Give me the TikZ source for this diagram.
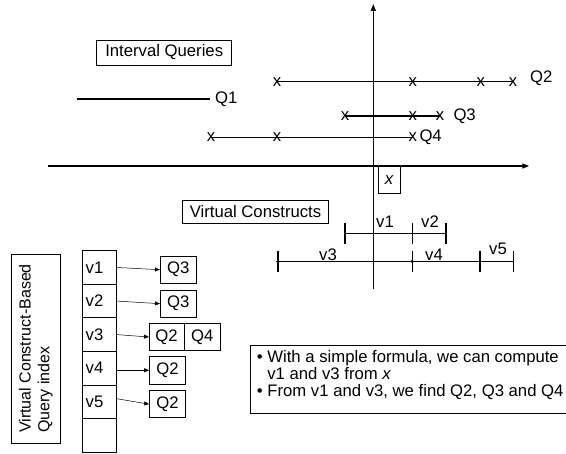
\documentclass[tikz,border=0pt]{standalone}
\usepackage{fontspec}
\setmainfont{Liberation Sans}
\usetikzlibrary{arrows.meta, positioning}
\tikzset{
	box/.style={rectangle, draw=black, line width=0.8pt, outer sep=0pt, text centered, align=center},
	cellbox/.style={box, minimum width=34pt, minimum height=33.55pt, text width=28pt, inner xsep=3pt, align=left},
	qbox/.style={box, minimum width=36.7pt, minimum height=27.4pt, inner sep=1pt},
	xmark/.style={inner sep=0pt},
	lbl/.style={inner sep=0pt},
	axis/.style={line width=1.4pt, -{Triangle[length=7pt, width=5pt]}},
	ival/.style={line width=1.4pt},
	ptr/.style={line width=0.5pt, -{Triangle[length=5pt, width=4pt]}},
}

\begin{document}
\begin{tikzpicture}[x=1pt, y=-1pt, font=\fontsize{16.7}{17}\selectfont]
	\useasboundingbox (0,0) rectangle (566,454);
	% axes
	\coordinate (ytop) at (373.3,4);
	\coordinate (ybot) at (373.3,289.3);
	\coordinate (xl) at (48.3,166);
	\coordinate (xr) at (529.3,166);
	\draw[axis] (ybot) -- (ytop);
	\draw[axis] (xl) -- (xr);
	\node[box, minimum width=22.7pt, minimum height=27.3pt, inner sep=0pt] (xval) at (389.3,179.7) {\textit{x}};

	% interval queries
	\node[box, minimum width=135pt, minimum height=25pt] (iq) at (164.2,52.5) {Interval Queries};
	\coordinate (q1a) at (76.7,99);
	\coordinate (q1b) at (210,99);
	\draw[ival] (q1a) -- (q1b);
	\node[lbl, anchor=west] (lq1) at (215,99) {Q1};
	\node[xmark] (m21) at (277,81.7) {x};
	\node[xmark] (m22) at (412.7,81.7) {x};
	\node[xmark] (m23) at (480.7,81.7) {x};
	\node[xmark] (m24) at (513,81.7) {x};
	\draw[ival] (m21.center) -- (m24.center);
	\node[lbl, anchor=west] (lq2) at (530,78) {Q2};
	\node[xmark] (m31) at (345,116) {x};
	\node[xmark] (m32) at (412.7,116) {x};
	\node[xmark] (m33) at (440,116) {x};
	\draw[ival] (m31.center) -- (m33.center);
	\node[lbl, anchor=west] (lq3) at (453.3,116) {Q3};
	\node[xmark] (m41) at (211,137.3) {x};
	\node[xmark] (m42) at (277,137.3) {x};
	\node[xmark] (m43) at (412.7,137.3) {x};
	\draw[ival] (m41.center) -- (m43.center);
	\node[lbl, anchor=west] (lq4) at (419.3,137.5) {Q4};

	% virtual constructs
	\node[box, minimum width=145.6pt, minimum height=23.3pt] (vc) at (255.5,211.7) {Virtual Constructs};
	\coordinate (a1) at (345,233.3);
	\coordinate (a2) at (412.3,233.3);
	\coordinate (a3) at (446,233.3);
	\coordinate (b1) at (278,261.5);
	\coordinate (b2) at (412.3,261.5);
	\coordinate (b3) at (480,261.5);
	\coordinate (b4) at (513.3,261.5);
	\draw[ival] (a1) -- (a3);
	\draw[ival] (b1) -- (b4);
	\foreach \p in {a1,a2,a3,b1,b2,b3,b4}
		\draw[ival] ([yshift=10.5pt]\p) -- ([yshift=-10.5pt]\p);
	\fill (b1) circle (1.8pt);
	\fill (b2) circle (1.8pt);
	\node[lbl] (v1) at (385,221.7) {v1};
	\node[lbl] (v2) at (430,221.5) {v2};
	\node[lbl] (v3) at (328,255) {v3};
	\node[lbl] (v4) at (434,255) {v4};
	\node[lbl] (v5) at (498,249) {v5};

	% query index
	\node[box, rotate=90, minimum width=189pt, minimum height=48.3pt, align=left,
		font=\fontsize{16}{18.7}\selectfont] (idx) at (35.9,348.5) {Virtual Construct-Based\\Query index};
	\node[cellbox] (c1) at (99.7,267.5) {v1};
	\node[cellbox, below=0pt of c1] (c2) {v2};
	\node[cellbox, below=0pt of c2] (c3) {v3};
	\node[cellbox, below=0pt of c3] (c4) {v4};
	\node[cellbox, below=0pt of c4] (c5) {v5};
	\node[cellbox, below=0pt of c5] (c6) {};
	\node[qbox] (q1) at (178.3,269.7) {Q3};
	\node[qbox] (q2) at (178.3,303.7) {Q3};
	\node[qbox, minimum width=35pt] (q3) at (166.5,337) {Q2};
	\node[qbox, right=0pt of q3] (q3b) {Q4};
	\node[qbox] (q4) at (167.5,370.3) {Q2};
	\node[qbox] (q5) at (167.5,404.2) {Q2};
	\draw[ptr] (c1.east) -- (q1.west);
	\draw[ptr] (c2.east) -- (q2.west);
	\draw[ptr] (c3.east) -- (q3.west);
	\draw[ptr] (c4.east |- q4.west) -- (q4.west);
	\draw[ptr] ([yshift=3pt]c5.east) -- (q5.west);

	% note
	\node[lbl, anchor=north west, align=left] (note) at (256.7,350) {\textbullet\ With a simple formula, we can compute\\\phantom{\textbullet\ }v1 and v3 from \textit{x}\\\textbullet\ From v1 and v3, we find Q2, Q3 and Q4};
	\draw[line width=0.8pt] (250,345) rectangle (580,413.3);
\end{tikzpicture}
\end{document}
